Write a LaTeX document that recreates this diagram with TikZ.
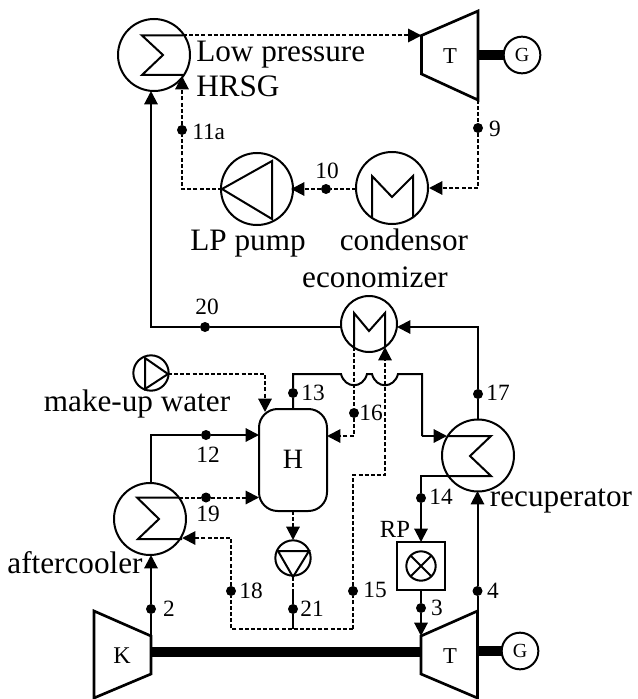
\documentclass[tikz,border=0pt]{standalone}
\usepackage{fontspec}
\setmainfont{Liberation Serif}
\usetikzlibrary{arrows.meta}
\tikzset{
  unit/.style={draw,circle,inner sep=0pt,outer sep=0pt,line width=1.5pt,fill=none},
  rbig/.style={unit,minimum size=54pt},
  rmid/.style={unit,minimum size=42pt},
  rsmall/.style={unit,minimum size=26.5pt},
  ln/.style={line width=1.5pt},
  inner/.style={line width=1.5pt,line join=miter},
  dsh/.style={line width=1.5pt,dash pattern=on 3pt off 1.6pt},
  tip/.style={-{Triangle[length=10pt,width=10pt]}},
  shaft/.style={line width=7pt},
  dot/.style={circle,fill=black,inner sep=0pt,outer sep=0pt,minimum size=7.5pt},
  big/.style={inner sep=0pt,font=\fontsize{23.4}{26}\selectfont},
  num/.style={inner sep=0pt,font=\fontsize{17.5}{20}\selectfont},
}
\begin{document}
\begin{tikzpicture}[x=0.75pt,y=-0.75pt]
\useasboundingbox (0,0) rectangle (637,699);
% --- equipment
\node[rbig] (hrsg) at (154,55) {};
\node[rbig] (cond) at (392,188) {};
\node[rbig] (lpp) at (257,189) {};
\node[rbig] (aft) at (150,519) {};
\node[rbig] (rec) at (478,455.5) {};
\node[unit,minimum size=42pt] (eco) at (369,324) {};
\node[rsmall] (mup) at (151,373) {};
\node[rsmall] (fwp) at (293,558) {};
\node[rsmall,minimum size=27.5pt] (g1) at (522,55) {};
\node[rsmall,minimum size=27.5pt] (g2) at (520,651) {};
\node[draw,line width=1.5pt,minimum size=36pt,inner sep=0pt,outer sep=0pt] (rp) at (421,566) {};
\node[unit,minimum size=22pt] (rpc) at (421,566) {};
\draw[inner] (rpc.45) -- (rpc.225) (rpc.135) -- (rpc.315);
\node[draw,line width=1.5pt,rounded corners=14pt,minimum width=51pt,minimum height=76.5pt,inner sep=0pt,outer sep=0pt] (h) at (293,460) {};
% --- machines
\draw[line width=2pt,line join=miter] (421.5,35.5) coordinate (t1in) -- (478,11) -- (478,100) coordinate (t1out) -- (421.5,74) -- cycle;
\draw[line width=2pt,line join=miter] (421,636) coordinate (t2in) -- (477.5,611) coordinate (t2out) -- (477.5,698) -- (421,674) -- cycle;
\draw[line width=2pt,line join=miter] (94,611) -- (151,636) coordinate (kout) -- (151,674) -- (94,698) -- cycle;
% --- exchanger coils
\draw[inner] (183,35.5) coordinate (hrsgout) -- (142,35.5) -- (163,55) -- (142,75) -- (183,75);
\draw[inner] (372,218) -- (372,176) -- (392,197) -- (413,176) -- (413,218);
\draw[inner] (354,347) coordinate (ecoout) -- (354,313) -- (369,331) -- (385,313) -- (385,347);
\draw[inner] (179,497.5) coordinate (aftout) -- (137,497.5) -- (159,519) -- (138,539) -- (182,539);
\draw[inner] (447,436) -- (491,436) -- (470,456) -- (491,476) -- (447,476) coordinate (recout);
% --- pump triangles
\draw[inner,line join=miter] (222,189) -- (272,161) -- (272,219) -- cycle;
\draw[inner,line join=miter] (145,358) -- (168,374) -- (145,389) -- cycle;
\draw[inner,line join=miter] (278,551) -- (309,551) -- (293,577) -- cycle;
% --- shafts
\draw[shaft] (t1out |- g1) -- (g1);
\draw[shaft] (t2out |- g2) -- (g2);
\draw[shaft] (kout |- 0,652) -- (421,652);
% --- state points
\node[dot] (p2) at (151,609) {};
\node[dot] (p3) at (421,608) {};
\node[dot] (p4) at (477.5,591) {};
\node[dot] (p9) at (478,128) {};
\node[dot] (p10) at (326,189) {};
\node[dot] (p11) at (182,130) {};
\node[dot] (p12) at (206,435) {};
\node[dot] (p13) at (293,393) {};
\node[dot] (p14) at (421,498) {};
\node[dot] (p15) at (353,591) {};
\node[dot] (p16) at (354,413) {};
\node[dot] (p17) at (478,394) {};
\node[dot] (p18) at (231,591) {};
\node[dot] (p19) at (206,497.5) {};
\node[dot] (p20) at (205,327) {};
\node[dot] (p21) at (293,609) {};
% --- free ends
\coordinate (a) at (182,189);
\coordinate (hrsgin) at (182,76);
\coordinate (hin2) at (151,327);
\coordinate (hrsgtip) at (151,91);
\coordinate (b) at (478,188);
\coordinate (condin) at (429,188);
\coordinate (lppout) at (291,189);
\coordinate (condout) at (356,189);
\coordinate (ecoL) at (341,327);
\coordinate (ecoR) at (397,327);
\coordinate (c) at (478,327);
\coordinate (h13) at (293,409);
\coordinate (n1) at (293,374);
\coordinate (n2) at (341,374);
\coordinate (n3) at (367,374);
\coordinate (n4) at (372,374);
\coordinate (n5) at (398,374);
\coordinate (n6) at (422,374);
\coordinate (n7) at (422,436);
\coordinate (recin) at (447,436);
\coordinate (d) at (354,436);
\coordinate (hR) at (327,436);
\coordinate (ecotip) at (385,347);
\coordinate (e1) at (385,475);
\coordinate (e2) at (353,475);
\coordinate (e3) at (353,629);
\coordinate (e4) at (293,629);
\coordinate (e5) at (231,629);
\coordinate (e6) at (231,538);
\coordinate (afttip) at (182,538);
\coordinate (f1) at (421,476);
\coordinate (rptop) at (421,542);
\coordinate (rectip) at (477.5,491);
\coordinate (afttop) at (151,483);
\coordinate (g) at (151,435);
\coordinate (hL) at (259,435);
\coordinate (hL2) at (259,497.5);
\coordinate (aftbot) at (151,555);
\coordinate (fwpbot) at (293,577);
\coordinate (hbot) at (293,511);
\coordinate (fwptop) at (293,540);
\coordinate (mupout) at (168,374);
\coordinate (k) at (265,374);
\coordinate (ktip) at (265,412);
\coordinate (rec17) at (478,420);
% --- connectors, dashed
\draw[dsh,tip] (hrsgout) -- (t1in);
\draw[dsh,tip] (t1out) -- (p9) -- (b) -- (condin);
\draw[dsh,tip] (condout) -- (p10) -- (lppout);
\draw[dsh,tip] (222,189) -- (a) -- (p11) -- (hrsgin);
\draw[dsh,tip] (mupout) -- (k) -- (ktip);
\draw[dsh,tip] (ecoout) -- (p16) -- (d) -- (hR);
\draw[dsh,tip] (e3) -- (p15) -- (e2) -- (e1) -- (ecotip);
\draw[dsh,tip] (e3) -- (e4) -- (e5) -- (p18) -- (e6) -- (afttip);
\draw[dsh,tip] (aftout) -- (p19) -- (hL2);
\draw[dsh,tip] (hbot) -- (fwptop);
\draw[dsh] (fwpbot) -- (293,590);
% --- connectors, solid
\draw[ln] (293,590) -- (p21) -- (e4);
\draw[ln,tip] (ecoL) -- (p20) -- (hin2) -- (hrsgtip);
\draw[ln,tip] (rec17) -- (p17) -- (c) -- (ecoR);
\draw[ln] (h13) -- (p13) -- (n1) -- (n2)
  .. controls (345,389) and (363,389) .. (n3) -- (n4)
  .. controls (376,389) and (394,389) .. (n5) -- (n6) -- (n7);
\draw[ln,tip] (n7) -- (recin);
\draw[ln,tip] (recout) -- (f1) -- (p14) -- (rptop);
\draw[ln,tip] (421,590) -- (p3) -- (t2in);
\draw[ln,tip] (t2out) -- (p4) -- (rectip);
\draw[ln,tip] (kout) -- (p2) -- (aftbot);
\draw[ln,tip] (afttop) -- (g) -- (p12) -- (hL);
% --- texts
\node[big,anchor=base west] (tlp) at (196,62) {Low pressure};
\node[big,anchor=base west] (thr) at (196,97) {HRSG};
\node[big,anchor=base] (tlpp) at (248,250) {LP pump};
\node[big,anchor=base] (tcond) at (404,250) {condensor};
\node[big,anchor=base] (teco) at (375,287) {economizer};
\node[big,anchor=base] (tmu) at (137,411) {make-up water};
\node[big,anchor=base] (taft) at (75,573) {aftercooler};
\node[big,anchor=base] (trec) at (561,506) {recuperator};
\node[inner sep=0pt,anchor=base,font=\fontsize{18.5}{20}\selectfont] (trp) at (395,537) {RP};
\node[inner sep=0pt,font=\fontsize{21}{24}\selectfont] (th) at (293,459) {H};
\node[inner sep=0pt,font=\fontsize{17}{20}\selectfont] (tt1) at (450,56) {T};
\node[inner sep=0pt,font=\fontsize{17}{20}\selectfont] (tt2) at (450,656) {T};
\node[inner sep=0pt,font=\fontsize{18}{20}\selectfont] (tk) at (122,656) {K};
\node[inner sep=0pt,font=\fontsize{15}{18}\selectfont] at (g1) {G};
\node[inner sep=0pt,font=\fontsize{15}{18}\selectfont] at (g2) {G};
\node[num] (l2) at (169,609) {2};
\node[num] (l3) at (437,608) {3};
\node[num] (l4) at (493,591) {4};
\node[num] (l9) at (495,129) {9};
\node[num] (l10) at (327,171) {10};
\node[num,anchor=base west] (l11) at (192,139) {11a};
\node[num] (l12) at (208,455) {12};
\node[num] (l13) at (313,393) {13};
\node[num] (l14) at (441,497) {14};
\node[num] (l15) at (375,590) {15};
\node[num] (l16) at (371,413) {16};
\node[num] (l17) at (498,393) {17};
\node[num] (l18) at (251,591) {18};
\node[num] (l19) at (208,514) {19};
\node[num] (l20) at (207,307) {20};
\node[num] (l21) at (312,609) {21};
\end{tikzpicture}
\end{document}
